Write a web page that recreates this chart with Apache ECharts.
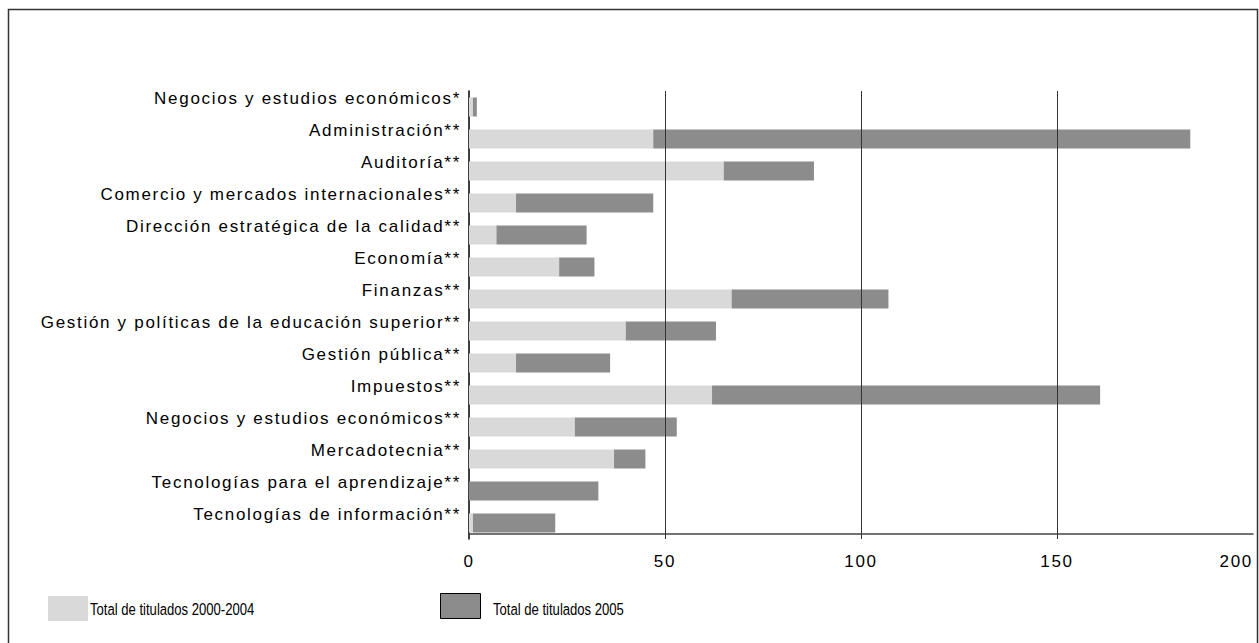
<!DOCTYPE html>
<html>
<head>
<meta charset="utf-8">
<script src="https://cdn.jsdelivr.net/npm/echarts@6/dist/echarts.min.js"></script>
<style>
html,body{margin:0;padding:0;background:#fff;}
#chart{width:1259px;height:643px;}
#chart svg text{letter-spacing:1.7px;}
#chart svg text[style*="Narrow"]{letter-spacing:0;}
</style>
</head>
<body>
<div id="chart"></div>
<script>
const categories = [
  'Negocios y estudios económicos*',
  'Administración**',
  'Auditoría**',
  'Comercio y mercados internacionales**',
  'Dirección estratégica de la calidad**',
  'Economía**',
  'Finanzas**',
  'Gestión y políticas de la educación superior**',
  'Gestión pública**',
  'Impuestos**',
  'Negocios y estudios económicos**',
  'Mercadotecnia**',
  'Tecnologías para el aprendizaje**',
  'Tecnologías de información**'
];
const seriesNames = ['Total de titulados 2000-2004', 'Total de titulados 2005'];
const titulados2000_2004 = [1, 47, 65, 12, 7, 23, 67, 40, 12, 62, 27, 37, 0, 1];
const titulados2005 = [1, 137, 23, 35, 23, 9, 40, 23, 24, 99, 26, 8, 33, 21];
const gridLineValues = [50, 100, 150];
const colors = ['#d9d9d9', '#8c8c8c'];

const chart = echarts.init(document.getElementById('chart'), null, {renderer: 'svg'});
const axisFont = '"Liberation Sans", Arial, sans-serif';
const legendFont = '17px "Liberation Sans Narrow", "Liberation Sans", sans-serif';

chart.setOption({
  animation: false,
  backgroundColor: '#fff',
  graphic: [{
    type: 'rect',
    shape: {x: 8.5, y: 9.5, width: 1249, height: 650},
    style: {fill: 'none', stroke: '#333', lineWidth: 1.5},
    silent: true
  }, {
    type: 'rect',
    shape: {x: 48, y: 596, width: 40, height: 25},
    style: {fill: colors[0]},
    silent: true
  }, {
    type: 'text',
    x: 90, y: 609, scaleX: 0.77,
    style: {text: seriesNames[0], font: legendFont, fill: '#000', verticalAlign: 'middle', align: 'left'},
    silent: true
  }, {
    type: 'rect',
    shape: {x: 440.5, y: 593.5, width: 40, height: 25},
    style: {fill: colors[1], stroke: '#000', lineWidth: 1},
    silent: true
  }, {
    type: 'text',
    x: 493, y: 609, scaleX: 0.77,
    style: {text: seriesNames[1], font: legendFont, fill: '#000', verticalAlign: 'middle', align: 'left'},
    silent: true
  }],
  grid: {left: 469, right: 6, top: 91, bottom: 104, containLabel: false},
  xAxis: {
    type: 'value',
    min: 0, max: 200, interval: 50,
    offset: -5,
    axisLine: {show: true, lineStyle: {color: '#444', width: 1.5}},
    axisTick: {show: false},
    splitLine: {show: false},
    axisLabel: {
      fontFamily: axisFont, fontSize: 17, color: '#000', margin: 19,
      alignMaxLabel: 'right'
    }
  },
  yAxis: {
    type: 'category',
    inverse: true,
    data: categories,
    axisLine: {show: true, lineStyle: {color: '#000', width: 1.5}},
    axisTick: {show: false},
    axisLabel: {
      fontFamily: axisFont, fontSize: 17, color: '#000', margin: 8,
      verticalAlign: 'bottom', lineHeight: 17
    }
  },
  series: [{
    name: seriesNames[0],
    type: 'bar',
    stack: 'total',
    barWidth: 19,
    itemStyle: {color: colors[0]},
    data: titulados2000_2004
  }, {
    name: seriesNames[1],
    type: 'bar',
    stack: 'total',
    barWidth: 19,
    itemStyle: {color: colors[1]},
    data: titulados2005,
    markLine: {
      silent: true,
      symbol: 'none',
      label: {show: false},
      lineStyle: {color: '#333', width: 1, type: 'solid'},
      data: gridLineValues.map(v => ({xAxis: v}))
    }
  }]
});
</script>
</body>
</html>
